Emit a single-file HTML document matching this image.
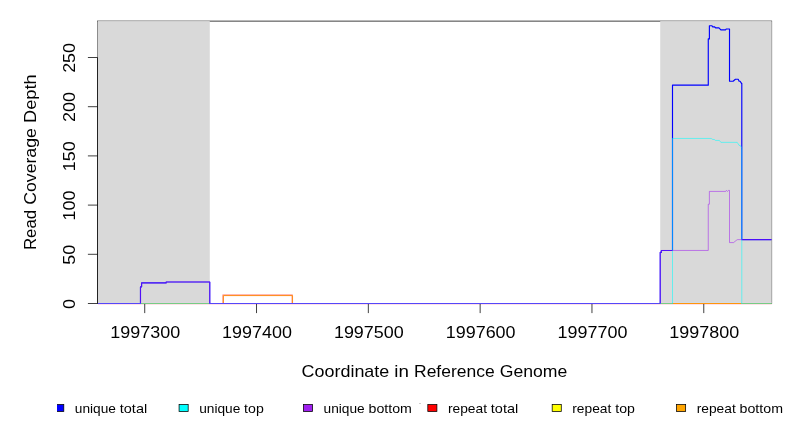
<!DOCTYPE html>
<html><head><meta charset="utf-8"><title>Read Coverage Depth</title>
<style>
html,body{margin:0;padding:0;background:#fff;}
body{width:792px;height:432px;overflow:hidden;font-family:"Liberation Sans",sans-serif;}
svg{display:block;position:absolute;left:0;top:0;}
.t{opacity:0.999;}
text{font-family:"Liberation Sans",sans-serif;fill:#000;}
</style></head><body>
<svg width="792" height="432" viewBox="0 0 792 432">
<rect x="0" y="0" width="792" height="432" fill="#fff"/>
<defs><clipPath id="legclip"><rect x="57" y="400" width="20" height="16"/></clipPath><clipPath id="plot"><rect x="97.5" y="21.1" width="674.2" height="281.9"/></clipPath></defs>
<rect x="97.5" y="21.1" width="674.20" height="282.40" fill="none" stroke="#000" stroke-width="0.75"/>
<rect x="97.5" y="21.1" width="112.28" height="282.40" fill="#D9D9D9"/>
<rect x="660.21" y="21.1" width="111.49" height="282.40" fill="#D9D9D9"/>
<rect x="98" y="304" width="673.7" height="1" fill="rgb(255,225,232)"/>
<path d="M97.5 57.5V303.5" stroke="#000" stroke-width="0.75" fill="none"/>
<path d="M97.5 303.5H87.90" stroke="#000" stroke-width="0.75" fill="none"/>
<path d="M97.5 254.3H87.90" stroke="#000" stroke-width="0.75" fill="none"/>
<path d="M97.5 205.1H87.90" stroke="#000" stroke-width="0.75" fill="none"/>
<path d="M97.5 155.9H87.90" stroke="#000" stroke-width="0.75" fill="none"/>
<path d="M97.5 106.7H87.90" stroke="#000" stroke-width="0.75" fill="none"/>
<path d="M97.5 57.5H87.90" stroke="#000" stroke-width="0.75" fill="none"/>
<path d="M144.72 303.5H703.77" stroke="#000" stroke-width="0.75" fill="none"/>
<path d="M144.72 303.5V313.10" stroke="#000" stroke-width="0.75" fill="none"/>
<path d="M256.53 303.5V313.10" stroke="#000" stroke-width="0.75" fill="none"/>
<path d="M368.34 303.5V313.10" stroke="#000" stroke-width="0.75" fill="none"/>
<path d="M480.15 303.5V313.10" stroke="#000" stroke-width="0.75" fill="none"/>
<path d="M591.96 303.5V313.10" stroke="#000" stroke-width="0.75" fill="none"/>
<path d="M703.77 303.5V313.10" stroke="#000" stroke-width="0.75" fill="none"/>
<g clip-path="url(#plot)" fill="none" stroke-linejoin="round" stroke-linecap="butt">
<path d="M97.5 304.5H140.48V286.87H141.6V282.94H166.15V281.95H209.78V304.5H660.21V252.43H661.33V250.46H672.5V85.15H708.27V38.9H709.39V25.7H711.8L712.7 26.8H714.4L715.5 27.8H718.95L720.86 29.85H725.5L726.4 28.95H729.51V81.22H733.1L735.4 79.25H738.2L739.1 81.22H740.1L741.5 83.4H741.8V239.64H771.7" stroke="#0000FF" stroke-width="1.15"/>
<path d="M222.99 304.5V295.04H292.19V304.5" stroke="#FF3020" stroke-width="1.5" stroke-opacity="0.45"/>
<path d="M223.39 304.5V295.58H292.54V304.5" stroke="#FF8C1A" stroke-width="1.0"/>
<path d="M672.5 304.5V138.45H711.2L712.8 139.47H714.3L715.5 140.44H719.4L720.9 142.35H737.2L739.1 145.4H740.2L741.3 147.3L741.8 148.5V304.5" stroke="#00FFFF" stroke-width="0.54"/>
<path d="M97.5 304.5H140.48V286.87H141.6V282.94H166.15V281.95H209.78V304.5H660.21V252.43H661.33V250.46H708.27V204.22H709.39V191.42H725.7L726.4 190.4L727.5 191.4L728.6 190.4H729.51V242.59H733.5L735 241.4L736.3 240.4L737.5 239.64H771.7" stroke="#A020F0" stroke-width="0.54"/>
</g>
<rect x="98" y="303" width="42.78" height="1" fill="rgb(85,72,250)"/>
<rect x="140.78" y="303" width="68.40" height="1" fill="rgb(118,205,133)"/>
<rect x="209.18" y="303" width="450.43" height="1" fill="rgb(85,72,250)"/>
<rect x="659.61" y="303" width="12.59" height="1" fill="rgb(118,205,133)"/>
<rect x="672.2" y="303" width="69.30" height="1" fill="rgb(255,150,10)"/>
<rect x="741.5" y="303" width="30.20" height="1" fill="rgb(118,205,133)"/>
<rect x="141.67999999999998" y="302" width="67.10" height="1" fill="rgb(222,214,222)"/>
<rect x="661.21" y="302" width="10.69" height="1" fill="rgb(222,214,222)"/>
<rect x="673.1" y="302" width="67.90" height="1" fill="rgb(210,220,230)"/>
<rect x="742.5999999999999" y="302" width="28.70" height="1" fill="rgb(222,214,222)"/>
<path d="M140.48 302.8V304" stroke="rgb(85,72,250)" stroke-width="1.15" fill="none"/>
<path d="M209.78 302.8V304" stroke="rgb(85,72,250)" stroke-width="1.15" fill="none"/>
<path d="M660.21 302.8V304" stroke="rgb(85,72,250)" stroke-width="1.15" fill="none"/>
<path d="M672.5 302.8V304" stroke="#00FFFF" stroke-width="0.54" fill="none"/>
<path d="M741.8 302.8V304" stroke="#00FFFF" stroke-width="0.54" fill="none"/>
<g class="t">
<text x="74.8" y="303.9" font-size="16.3" text-anchor="middle" textLength="9.98" lengthAdjust="spacingAndGlyphs" transform="rotate(-90 74.8 303.9)">0</text>
<text x="74.8" y="254.7" font-size="16.3" text-anchor="middle" textLength="19.95" lengthAdjust="spacingAndGlyphs" transform="rotate(-90 74.8 254.7)">50</text>
<text x="74.8" y="205.5" font-size="16.3" text-anchor="middle" textLength="29.93" lengthAdjust="spacingAndGlyphs" transform="rotate(-90 74.8 205.5)">100</text>
<text x="74.8" y="156.3" font-size="16.3" text-anchor="middle" textLength="29.93" lengthAdjust="spacingAndGlyphs" transform="rotate(-90 74.8 156.3)">150</text>
<text x="74.8" y="107.1" font-size="16.3" text-anchor="middle" textLength="29.93" lengthAdjust="spacingAndGlyphs" transform="rotate(-90 74.8 107.1)">200</text>
<text x="74.8" y="57.9" font-size="16.3" text-anchor="middle" textLength="29.93" lengthAdjust="spacingAndGlyphs" transform="rotate(-90 74.8 57.9)">250</text>
<text x="145.22" y="337.9" font-size="16.3" text-anchor="middle" textLength="69.83" lengthAdjust="spacingAndGlyphs">1997300</text>
<text x="257.03" y="337.9" font-size="16.3" text-anchor="middle" textLength="69.83" lengthAdjust="spacingAndGlyphs">1997400</text>
<text x="368.84" y="337.9" font-size="16.3" text-anchor="middle" textLength="69.83" lengthAdjust="spacingAndGlyphs">1997500</text>
<text x="480.65" y="337.9" font-size="16.3" text-anchor="middle" textLength="69.83" lengthAdjust="spacingAndGlyphs">1997600</text>
<text x="592.46" y="337.9" font-size="16.3" text-anchor="middle" textLength="69.83" lengthAdjust="spacingAndGlyphs">1997700</text>
<text x="704.27" y="337.9" font-size="16.3" text-anchor="middle" textLength="69.83" lengthAdjust="spacingAndGlyphs">1997800</text>
<text x="301.58" y="376.7" font-size="16.6" text-anchor="start" textLength="87.71" lengthAdjust="spacingAndGlyphs">Coordinate</text>
<text x="394.38" y="376.7" font-size="16.6" text-anchor="start" textLength="14.59" lengthAdjust="spacingAndGlyphs">in</text>
<text x="414.06" y="376.7" font-size="16.6" text-anchor="start" textLength="80.57" lengthAdjust="spacingAndGlyphs">Reference</text>
<text x="499.71" y="376.7" font-size="16.6" text-anchor="start" textLength="67.60" lengthAdjust="spacingAndGlyphs">Genome</text>
<text x="36.1" y="250.08" font-size="16.6" text-anchor="start" textLength="40.20" lengthAdjust="spacingAndGlyphs" transform="rotate(-90 36.1 250.08)">Read</text>
<text x="36.1" y="204.79" font-size="16.6" text-anchor="start" textLength="76.66" lengthAdjust="spacingAndGlyphs" transform="rotate(-90 36.1 204.79)">Coverage</text>
<text x="36.1" y="123.05" font-size="16.6" text-anchor="start" textLength="48.73" lengthAdjust="spacingAndGlyphs" transform="rotate(-90 36.1 123.05)">Depth</text>
<rect x="419" y="403" width="2" height="1" fill="#CFCFCF"/>
<rect x="54.70" y="404.5" width="9.1" height="7" fill="#0000FF" stroke="#000" stroke-width="0.75" clip-path="url(#legclip)"/>
<text x="74.8" y="412.6" font-size="12.6" text-anchor="start" textLength="41.15" lengthAdjust="spacingAndGlyphs">unique</text>
<text x="119.77" y="412.6" font-size="12.6" text-anchor="start" textLength="27.44" lengthAdjust="spacingAndGlyphs">total</text>
<rect x="179.07" y="404.5" width="9.1" height="7" fill="#00FFFF" stroke="#000" stroke-width="0.75"/>
<text x="199.17" y="412.6" font-size="12.6" text-anchor="start" textLength="41.15" lengthAdjust="spacingAndGlyphs">unique</text>
<text x="244.14" y="412.6" font-size="12.6" text-anchor="start" textLength="19.66" lengthAdjust="spacingAndGlyphs">top</text>
<rect x="303.44" y="404.5" width="9.1" height="7" fill="#A020F0" stroke="#000" stroke-width="0.75"/>
<text x="323.54" y="412.6" font-size="12.6" text-anchor="start" textLength="41.15" lengthAdjust="spacingAndGlyphs">unique</text>
<text x="368.51" y="412.6" font-size="12.6" text-anchor="start" textLength="43.40" lengthAdjust="spacingAndGlyphs">bottom</text>
<rect x="427.81" y="404.5" width="9.1" height="7" fill="#FF0000" stroke="#000" stroke-width="0.75"/>
<text x="447.91" y="412.6" font-size="12.6" text-anchor="start" textLength="39.11" lengthAdjust="spacingAndGlyphs">repeat</text>
<text x="490.84" y="412.6" font-size="12.6" text-anchor="start" textLength="27.44" lengthAdjust="spacingAndGlyphs">total</text>
<rect x="552.18" y="404.5" width="9.1" height="7" fill="#FFFF00" stroke="#000" stroke-width="0.75"/>
<text x="572.28" y="412.6" font-size="12.6" text-anchor="start" textLength="39.11" lengthAdjust="spacingAndGlyphs">repeat</text>
<text x="615.21" y="412.6" font-size="12.6" text-anchor="start" textLength="19.66" lengthAdjust="spacingAndGlyphs">top</text>
<rect x="676.55" y="404.5" width="9.1" height="7" fill="#FFA500" stroke="#000" stroke-width="0.75"/>
<text x="696.65" y="412.6" font-size="12.6" text-anchor="start" textLength="39.11" lengthAdjust="spacingAndGlyphs">repeat</text>
<text x="739.58" y="412.6" font-size="12.6" text-anchor="start" textLength="43.40" lengthAdjust="spacingAndGlyphs">bottom</text>
</g>
</svg></body></html>
